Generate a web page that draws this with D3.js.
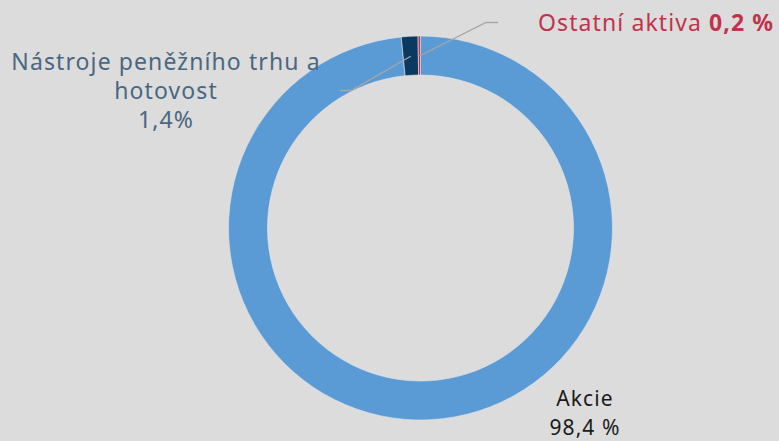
<!DOCTYPE html>
<html>
<head>
<meta charset="utf-8">
<script src="https://cdn.jsdelivr.net/npm/d3@7"></script>
<style>
  html, body { margin: 0; padding: 0; background: #dcdcdc; }
  svg { display: block; }
  text { font-family: "Noto Sans", "DejaVu Sans", sans-serif; letter-spacing: 1.1px; }
</style>
</head>
<body>
<svg id="chart" width="779" height="441"></svg>
<script>
// Asset allocation (share of portfolio, %)
const categories = ["Akcie", "Nástroje peněžního trhu a hotovost", "Ostatní aktiva"];
const shares = [98.4, 1.4, 0.2];
const shareLabels = ["98,4 %", "1,4%", "0,2 %"];
const colors = ["#5b9bd5", "#0b3a61", "#c0334d"];

const width = 779, height = 441;
const cx = 420.5, cy = 228;
const outerR = 192, innerR = 153;

const svg = d3.select("#chart");

const pie = d3.pie().sort(null).value(d => d.value);
const arcs = pie(categories.map((c, i) => ({ name: c, value: shares[i], color: colors[i] })));
const arc = d3.arc().innerRadius(innerR).outerRadius(outerR);

const g = svg.append("g").attr("transform", `translate(${cx},${cy})`);
g.selectAll("path.slice")
  .data(arcs)
  .join("path")
  .attr("class", "slice")
  .attr("d", arc)
  .attr("fill", d => d.data.color)
  .attr("stroke", "#e6e6e6")
  .attr("stroke-width", 0.6);

// Leader lines from the two small slices out to their labels
const midPoint = (d, r) => {
  const a = (d.startAngle + d.endAngle) / 2;
  return [cx + r * Math.sin(a), cy - r * Math.cos(a)];
};
const leaderR = outerR - 20;
const pNastroje = midPoint(arcs[1], leaderR);
const pOstatni = midPoint(arcs[2], leaderR);

const line = d3.line();
svg.append("path")
  .attr("d", line([pNastroje, [351, 90.5], [340, 90.5]]))
  .attr("fill", "none").attr("stroke", "#a6a6a6").attr("stroke-width", 1.3);
svg.append("path")
  .attr("d", line([pOstatni, [486, 22.5], [498, 22.5]]))
  .attr("fill", "none").attr("stroke", "#a6a6a6").attr("stroke-width", 1.3);

// Labels
const ost = svg.append("text")
  .attr("x", 538).attr("y", 30.5)
  .attr("font-size", 23)
  .attr("fill", "#c0334d");
ost.append("tspan").text(categories[2] + " ");
ost.append("tspan").attr("font-weight", "bold").text(shareLabels[2]);

const nas = svg.append("text")
  .attr("text-anchor", "middle")
  .attr("font-size", 23)
  .attr("fill", "#4a6782");
["Nástroje peněžního trhu a", "hotovost", shareLabels[1]].forEach((t, i) => {
  nas.append("tspan").attr("x", 166).attr("y", 69.5 + i * 29).text(t);
});

// Akcie label: one text per line
[categories[0], shareLabels[0]].forEach((t, i) => {
  svg.append("text")
    .attr("text-anchor", "middle")
    .attr("x", 585).attr("y", 406 + i * 29)
    .attr("font-size", 21)
    .attr("letter-spacing", 1.7)
    .attr("fill", "#1a1a1a")
    .text(t);
});
</script>
</body>
</html>
